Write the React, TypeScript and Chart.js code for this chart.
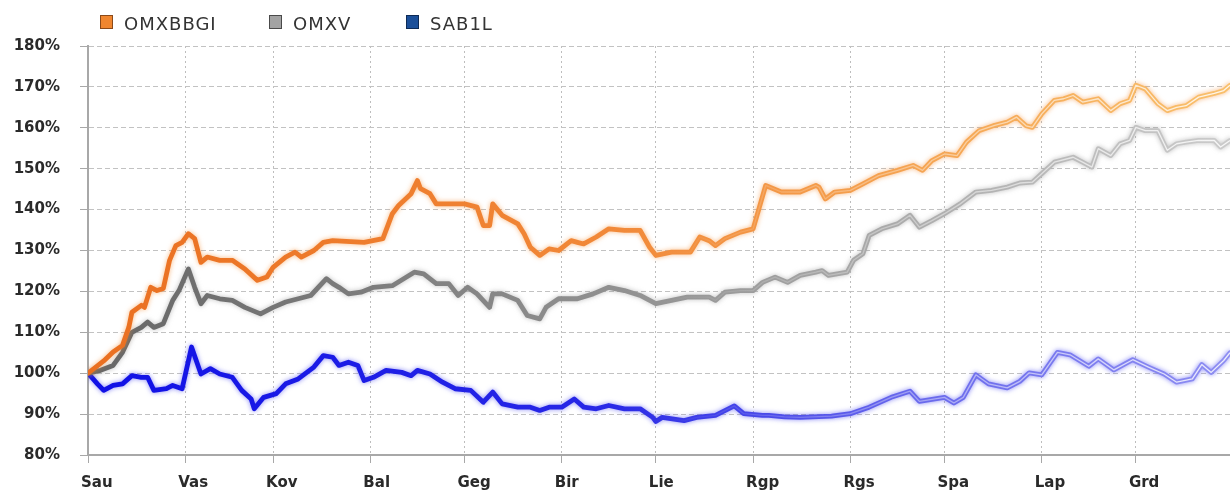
import { useEffect, useRef } from 'react';
import { Chart, registerables } from 'chart.js';

Chart.register(...registerables);

// ---- Data ----
const monthLabels = ['Sau', 'Vas', 'Kov', 'Bal', 'Geg', 'Bir', 'Lie', 'Rgp', 'Rgs', 'Spa', 'Lap', 'Grd'];
const monthStartDays = [0, 31, 59, 90, 120, 151, 181, 212, 243, 273, 304, 334];
const yMin = 80;
const yMax = 180;
const yStep = 10;
const lastDay = 364;

const seriesNames = ['OMXBBGI', 'OMXV', 'SAB1L'];

const omxbbgiDays = [0, 5, 8, 11, 13, 14, 17, 18, 20, 22, 24, 26, 28, 30, 32, 34, 36, 38, 42, 46, 50, 54, 57, 59, 63, 66, 68, 72, 75, 78, 88, 94, 97, 99, 103, 105, 106, 109, 111, 115, 120, 124, 126, 128, 129, 132, 137, 139, 141, 144, 147, 150, 154, 156, 158, 162, 166, 171, 176, 179, 181, 186, 192, 195, 198, 200, 203, 208, 212, 214, 216, 221, 227, 232, 233, 235, 238, 243, 247, 252, 258, 263, 266, 269, 273, 277, 280, 284, 289, 293, 296, 299, 301, 304, 308, 311, 314, 317, 322, 326, 329, 332, 334, 337, 341, 344, 347, 350, 354, 359, 362, 364];
const omxbbgiValues = [100, 103, 105.2, 106.8, 111.2, 114.9, 116.6, 116.1, 121, 120.2, 120.7, 127.6, 131.2, 132, 134.1, 132.9, 127.1, 128.4, 127.6, 127.6, 125.5, 122.7, 123.5, 125.9, 128.4, 129.6, 128.4, 130, 132, 132.4, 132, 132.9, 139, 141, 143.9, 147.1, 145.1, 143.9, 141.4, 141.4, 141.4, 140.6, 136.1, 136.1, 141.4, 138.6, 136.5, 134.1, 130.8, 128.8, 130.4, 130, 132.4, 132, 131.6, 133.3, 135.3, 134.9, 134.9, 130.8, 128.8, 129.6, 129.6, 133.3, 132.4, 131.2, 132.9, 134.5, 135.3, 140.6, 145.9, 144.3, 144.3, 145.9, 145.5, 142.6, 144.3, 144.7, 146.3, 148.3, 149.6, 150.8, 149.6, 152, 153.6, 153.2, 156.5, 159.3, 160.6, 161.4, 162.6, 160.5, 160.1, 163.4, 166.7, 167.1, 167.9, 166.3, 167.1, 164.2, 165.9, 166.7, 170.4, 169.5, 165.9, 164.2, 165, 165.4, 167.5, 168.4, 169.1, 170.4];

const omxvDays = [0, 4, 8, 11, 14, 17, 19, 21, 24, 27, 29, 32, 34, 36, 38, 42, 46, 50, 55, 59, 63, 67, 71, 76, 78, 80, 83, 87, 91, 97, 104, 107, 111, 115, 118, 121, 124, 128, 129, 132, 137, 140, 144, 146, 150, 156, 161, 166, 171, 176, 181, 186, 191, 198, 200, 203, 208, 212, 215, 219, 223, 227, 232, 234, 236, 242, 244, 247, 249, 253, 258, 262, 265, 269, 273, 278, 283, 288, 293, 297, 301, 304, 308, 314, 317, 320, 322, 326, 329, 332, 334, 337, 341, 344, 347, 350, 354, 359, 361, 364];
const omxvValues = [100, 100.7, 101.9, 105.1, 110, 111.2, 112.5, 111.2, 112.1, 117.8, 120.2, 125.5, 121, 117, 119, 118.2, 117.8, 116.1, 114.5, 116.1, 117.4, 118.2, 119, 123.1, 121.9, 121, 119.4, 119.8, 121, 121.4, 124.7, 124.3, 121.9, 121.9, 119, 121, 119.4, 116.1, 119.4, 119.4, 117.8, 114.1, 113.3, 116.1, 118.2, 118.2, 119.4, 121, 120.2, 119, 117, 117.8, 118.6, 118.6, 117.8, 119.8, 120.2, 120.2, 122.2, 123.5, 122.2, 123.9, 124.7, 125.1, 123.9, 124.7, 127.6, 129.2, 133.7, 135.3, 136.5, 138.6, 135.7, 137.3, 139, 141.4, 144.3, 144.7, 145.5, 146.5, 146.7, 148.8, 151.6, 152.8, 151.6, 150.4, 154.9, 153.2, 156.1, 156.9, 160.1, 159.3, 159.3, 154.5, 156.1, 156.5, 156.9, 156.9, 155.3, 156.9];

const sab1lDays = [0, 3, 5, 8, 11, 14, 17, 19, 21, 25, 27, 30, 33, 36, 39, 42, 46, 49, 52, 53, 56, 60, 63, 67, 72, 75, 78, 80, 83, 86, 88, 91, 95, 100, 103, 105, 109, 113, 117, 122, 126, 129, 132, 137, 141, 144, 147, 151, 155, 158, 162, 166, 171, 176, 180, 181, 183, 190, 194, 200, 206, 209, 215, 217, 222, 227, 237, 243, 249, 256, 262, 265, 270, 273, 276, 279, 283, 287, 293, 297, 300, 304, 309, 313, 319, 322, 327, 333, 338, 343, 347, 352, 355, 358, 362, 364];
const sab1lValues = [100, 97.4, 95.8, 97, 97.4, 99.4, 99, 99, 95.8, 96.2, 97, 96.2, 106.4, 99.8, 101.1, 99.8, 99, 95.8, 93.7, 91.3, 94.1, 95, 97.4, 98.6, 101.5, 104.3, 103.9, 101.9, 102.7, 101.9, 98.2, 99, 100.7, 100.2, 99.4, 100.7, 99.8, 97.8, 96.2, 95.8, 92.9, 95.4, 92.5, 91.7, 91.7, 90.9, 91.7, 91.7, 93.7, 91.7, 91.3, 92.1, 91.3, 91.3, 89.2, 88.2, 89.2, 88.4, 89.2, 89.7, 92, 90.1, 89.7, 89.7, 89.3, 89.2, 89.5, 90.1, 91.7, 94.1, 95.6, 93.1, 93.7, 94.1, 92.7, 94.1, 99.6, 97.4, 96.4, 98, 100.1, 99.6, 105.1, 104.5, 101.7, 103.5, 100.8, 103.3, 101.5, 99.8, 97.8, 98.6, 102.1, 100.2, 103.1, 105];

// ---- Styles ----
const lineStops: [number, string][][] = [
  [[0, '#ea6f20'], [0.45, '#f18838'], [1, '#f9c06c']],
  [[0, '#666666'], [0.5, '#949494'], [1, '#cbcbcb']],
  [[0, '#1010e6'], [0.45, '#2828e6'], [0.72, '#6868ec'], [1, '#8e8ef2']],
];
const glowColors = ['rgba(245,140,50,0.6)', 'rgba(130,130,130,0.5)', 'rgba(60,60,240,0.6)'];
const highlightStops: [number, string][] = [[0, 'rgba(255,255,255,0)'], [0.5, 'rgba(255,255,255,0)'], [1, 'rgba(255,255,255,0.85)']];
const legendFill = ['#f0862f', '#a3a3a3', '#1b4f99'];
const legendBorder = ['#8a4a1a', '#4a4a4a', '#0d2a55'];
const legendLeft = [100, 269, 406];

function hGrad(chart: any, stops: [number, string][]) {
  const a = chart.chartArea;
  if (!a) return stops[0][1];
  const g = chart.ctx.createLinearGradient(a.left, 0, a.right, 0);
  stops.forEach(([o, c]) => g.addColorStop(o, c));
  return g;
}

const glowPlugin = {
  id: 'glowLines',
  beforeDatasetDraw(chart: any, args: any) {
    const ds = chart.data.datasets[args.index];
    chart.ctx.save();
    if (ds.glowColor) {
      chart.ctx.shadowColor = ds.glowColor;
      chart.ctx.shadowBlur = 5;
    }
  },
  afterDatasetDraw(chart: any) {
    chart.ctx.restore();
  },
};

export default function App() {
  const canvasRef = useRef<HTMLCanvasElement>(null);

  useEffect(() => {
    if (!canvasRef.current) return;
    const allDays = [omxbbgiDays, omxvDays, sab1lDays];
    const allValues = [omxbbgiValues, omxvValues, sab1lValues];
    const pts = allDays.map((days, i) => days.map((d, j) => ({ x: d, y: allValues[i][j] })));

    const baseSets = pts.map((data, i) => ({
      label: seriesNames[i],
      data,
      borderColor: (ctx: any) => hGrad(ctx.chart, lineStops[i]),
      borderWidth: 4.8,
      borderJoinStyle: 'round',
      borderCapStyle: 'round',
      pointRadius: 0,
      tension: 0,
      fill: false,
      glowColor: glowColors[i],
      order: 2,
    }));
    const highlightSets = pts.map((data, i) => ({
      label: seriesNames[i] + '-hl',
      data,
      borderColor: (ctx: any) => hGrad(ctx.chart, highlightStops),
      borderWidth: 1.3,
      borderJoinStyle: 'round',
      pointRadius: 0,
      tension: 0,
      fill: false,
      order: 1,
    }));

    const font = { family: 'DejaVu Sans', size: 15, weight: 'bold' as const };

    const chart = new Chart(canvasRef.current, {
      type: 'line',
      data: { datasets: [...baseSets, ...highlightSets] as any },
      options: {
        animation: false,
        responsive: false,
        layout: { padding: { top: 46, left: 0, right: 0, bottom: 0 } },
        plugins: { legend: { display: false }, tooltip: { enabled: false } },
        scales: {
          x: {
            type: 'linear',
            min: 0,
            max: lastDay,
            afterBuildTicks: (scale: any) => {
              scale.ticks = monthStartDays.map((v) => ({ value: v }));
            },
            afterFit: (scale: any) => {
              scale.height = 38;
            },
            ticks: {
              autoSkip: false,
              maxRotation: 0,
              align: 'start',
              labelOffset: -7,
              padding: 11,
              color: '#2a2a2a',
              font,
              callback: (_v: any, i: number) => monthLabels[i],
            },
            grid: {
              color: '#bdbdbd',
              lineWidth: 1,
              tickLength: 8,
              tickColor: '#a8a8a8',
              tickBorderDash: [],
            },
            border: { display: true, color: '#a8a8a8', width: 2, dash: [2, 3] },
          },
          y: {
            min: yMin,
            max: yMax,
            afterFit: (scale: any) => {
              scale.width = 88;
            },
            ticks: {
              stepSize: yStep,
              padding: 20,
              color: '#2a2a2a',
              font,
              callback: (v: any) => v + '%',
            },
            grid: {
              color: '#c2c2c2',
              lineWidth: 1,
              tickLength: 8,
              tickColor: '#a8a8a8',
              tickBorderDash: [],
            },
            border: { display: true, color: '#a8a8a8', width: 2, dash: [5, 3] },
          },
        },
      },
      plugins: [glowPlugin],
    } as any);

    return () => chart.destroy();
  }, []);

  return (
    <div style={{ position: 'absolute', left: 0, top: 0, width: 1230, height: 493, background: '#ffffff' }}>
      <canvas ref={canvasRef} width={1230} height={493} style={{ display: 'block' }} />
      {seriesNames.map((name, i) => (
        <div
          key={name}
          style={{
            position: 'absolute',
            left: legendLeft[i],
            top: 15,
            display: 'flex',
            alignItems: 'flex-start',
            fontFamily: '"DejaVu Sans", sans-serif',
            fontSize: 18,
            lineHeight: '18px',
            letterSpacing: 1,
            color: '#333333',
            whiteSpace: 'nowrap',
          }}
        >
          <span
            style={{
              display: 'inline-block',
              width: 13,
              height: 14,
              boxSizing: 'border-box',
              border: `1px solid ${legendBorder[i]}`,
              background: legendFill[i],
              marginRight: 11,
            }}
          />
          <span>{name}</span>
        </div>
      ))}
    </div>
  );
}
